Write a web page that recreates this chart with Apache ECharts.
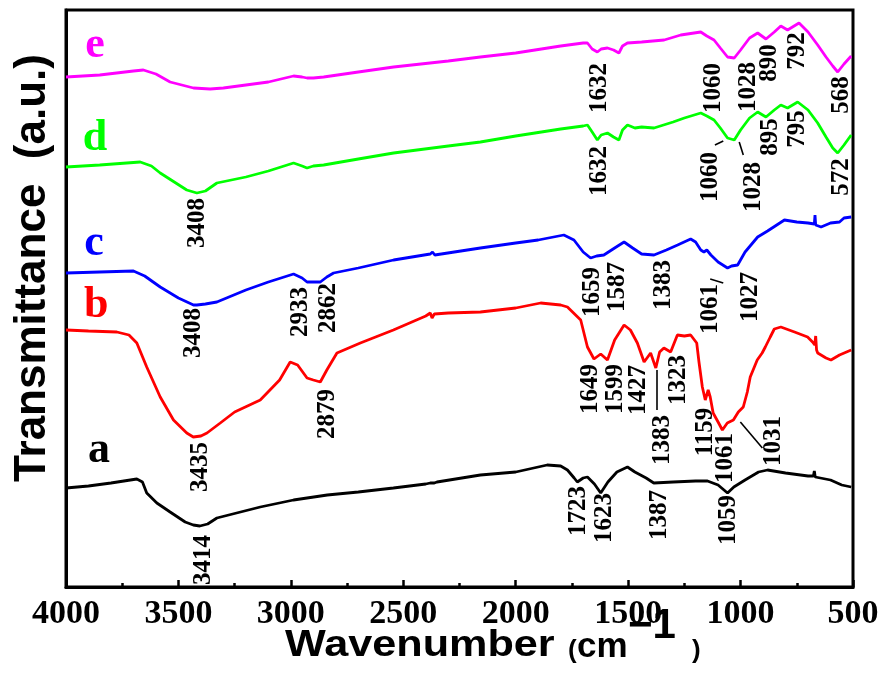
<!DOCTYPE html>
<html>
<head>
<meta charset="utf-8">
<script src="https://cdn.jsdelivr.net/npm/echarts@6/dist/echarts.min.js"></script>
<style>
html,body{margin:0;padding:0;background:#fff;}
#chart{width:883px;height:679px;}
</style>
</head>
<body>
<div id="chart"></div>
<script>
// ---- x-axis ticks (wavenumber, cm-1) ----
const xTicks = [4000, 3500, 3000, 2500, 2000, 1500, 1000, 500];

// ---- spectra: [wavenumber, offset transmittance (a.u.)] ----
const curveA = [[4000,99],[3900,101],[3800,104],[3685,108],[3660,105],[3641,94],[3596,84],[3537,75],[3470,65],[3434,62],[3405,61],[3370,63],[3329,69],[3136,80],[2988,87],[2838,92],[2700,95],[2544,99],[2400,103],[2380,104],[2372,106],[2362,104],[2350,105],[2157,112],[2000,115],[1860,122],[1800,121],[1770,117],[1740,109],[1726,105],[1700,109],[1681,110],[1650,103],[1622,94],[1590,105],[1550,115],[1503,120],[1470,115],[1420,109],[1386,104],[1300,105],[1200,106],[1147,106],[1100,102],[1058,94],[1030,100],[980,107],[920,115],[880,117],[800,114],[700,111],[676,111],[672,116],[668,110],[600,107],[550,102],[508,100]];
const curveB = [[4000,257],[3900,256],[3774,255],[3720,252],[3685,244],[3641,220],[3581,190],[3522,167],[3463,154],[3434,150],[3400,151],[3373,154],[3314,164],[3250,175],[3136,187],[3050,207],[3003,225],[2970,222],[2928,209],[2900,207],[2869,205],[2840,217],[2795,234],[2691,244],[2544,257],[2400,271],[2380,274],[2372,269],[2362,273],[2300,274],[2157,275],[2000,279],[1889,284],[1800,282],[1770,280],[1711,267],[1681,240],[1652,228],[1622,233],[1592,227],[1560,247],[1518,262],[1490,257],[1459,244],[1429,225],[1400,234],[1377,219],[1360,235],[1341,239],[1311,235],[1281,252],[1250,251],[1222,252],[1195,244],[1185,225],[1170,200],[1157,187],[1144,197],[1135,190],[1122,174],[1100,165],[1081,157],[1059,164],[1032,167],[1010,175],[988,180],[970,195],[957,210],[926,227],[904,234],[890,240],[868,250],[850,258],[821,260],[760,255],[702,250],[680,245],[670,242],[666,251],[662,237],[657,234],[620,229],[598,227],[560,232],[508,237]];
const curveC = [[4000,314],[3850,315],[3700,316],[3650,311],[3581,300],[3500,289],[3433,282],[3418,282],[3380,283],[3329,285],[3200,297],[3100,305],[2988,313],[2950,309],[2928,305],[2900,305],[2869,305],[2840,310],[2810,314],[2700,319],[2543,327],[2380,333],[2370,335],[2360,332],[2157,339],[2000,344],[1900,347],[1786,352],[1741,347],[1700,335],[1667,329],[1640,331],[1608,332],[1560,339],[1518,345],[1480,339],[1440,333],[1385,332],[1330,337],[1280,342],[1222,348],[1200,345],[1177,337],[1163,335],[1150,337],[1132,332],[1100,325],[1058,319],[1040,321],[1013,322],[980,335],[924,350],[880,356],[805,367],[750,365],[700,364],[672,363],[669,372],[666,362],[642,360],[600,364],[560,365],[540,369],[508,370]];
const curveD = [[4000,420],[3850,422],[3670,425],[3620,421],[3581,414],[3463,397],[3418,394],[3380,396],[3329,404],[3200,410],[3100,416],[2988,424],[2950,421],[2928,419],[2900,421],[2854,422],[2700,428],[2543,434],[2300,441],[2157,445],[2000,451],[1800,458],[1700,461],[1681,462],[1660,455],[1637,447],[1620,452],[1592,454],[1565,450],[1541,447],[1525,457],[1503,462],[1470,459],[1440,460],[1385,459],[1300,465],[1250,469],[1177,474],[1150,471],[1118,467],[1090,459],[1058,449],[1028,447],[1000,457],[960,469],[924,475],[887,470],[850,477],[821,482],[791,479],[746,485],[700,477],[657,464],[620,450],[590,439],[568,434],[540,442],[508,452]];
const curveE = [[4000,510],[3850,512],[3700,516],[3656,517],[3600,513],[3537,505],[3433,499],[3359,498],[3300,499],[3100,505],[2988,511],[2950,510],[2928,509],[2900,509],[2854,510],[2700,515],[2543,520],[2300,526],[2157,530],[2000,534],[1800,541],[1700,544],[1681,544],[1660,538],[1637,535],[1620,538],[1592,539],[1565,537],[1541,534],[1525,541],[1503,544],[1440,545],[1340,547],[1266,552],[1177,555],[1150,551],[1118,547],[1090,539],[1058,530],[1028,529],[1000,537],[960,549],[924,554],[887,548],[850,555],[821,561],[791,557],[740,564],[700,555],[657,542],[620,530],[590,521],[568,515],[540,523],[508,531]];

// ---- curve names / colors ----
const curveNames = ['a', 'b', 'c', 'd', 'e'];
const curveColors = ['#000000', '#ff0000', '#0000ff', '#00ff00', '#ff00ff'];
// ---- curve letter labels: [wavenumber, value, letter] ----
const letterLabels = [[3853,136,'a'],[3866,281,'b'],[3875,343,'c'],[3871,448,'d'],[3871,541,'e']];

// ---- peak annotations: [wavenumber, value, text] ----
const peaksA = [[3390,27,'3414'],[1722,76,'1723'],[1606,69,'1623'],[1362,72,'1387'],[1055,67,'1059']];
const peaksB = [[3403,120,'3435'],[2838,173,'2879'],[1667,198,'1649'],[1555,198,'1599'],[1455,197,'1427'],[1346,147,'1383'],[1277,207,'1323'],[1157,155,'1159'],[1068,129,'1061'],[855,146,'1031']];
const peaksC = [[3434,254,'3408'],[2958,275,'2933'],[2833,279,'2862'],[1658,295,'1659'],[1546,300,'1587'],[1342,302,'1383'],[1135,278,'1061'],[957,290,'1027']];
const peaksD = [[3417,364,'3408'],[1627,416,'1632'],[1133,410,'1060'],[943,400,'1028'],[865,450,'895'],[745,458,'795'],[553,410,'572']];
const peaksE = [[1627,499,'1632'],[1119,499,'1060'],[963,500,'1028'],[870,524,'890'],[745,536,'792'],[553,492,'568']];
// ---- leader lines: [w1, v1, w2, v2] ----
const leaders = [[1114,442,1077,446],[1006,445,988,432],[1135,308,1077,304],[1373,217,1373,177],[1001,165,903,139]];

const chart = echarts.init(document.getElementById('chart'));
const serif = '"Liberation Serif","Times New Roman",serif';
const sans = '"Liberation Sans",Arial,sans-serif';

const curves = [curveA, curveB, curveC, curveD, curveE];
const series = curves.map((d, i) => ({
  name: curveNames[i], type: 'line', data: d, showSymbol: false, symbol: 'none',
  lineStyle: { color: curveColors[i], width: 2.8 }, z: 3
}));

const allPeaks = [].concat(peaksA, peaksB, peaksC, peaksD, peaksE);
series.push({
  type: 'scatter', data: allPeaks, symbolSize: 0, z: 5, silent: true,
  itemStyle: { opacity: 1 },
  label: {
    show: true, position: 'inside', rotate: 90, align: 'center', verticalAlign: 'middle',
    formatter: p => p.value[2], color: '#000', fontFamily: serif, fontWeight: 'bold', fontSize: 25
  },
  markLine: {
    symbol: 'none', silent: true, animation: false,
    label: { show: false },
    lineStyle: { color: '#000', width: 1.6, type: 'solid', opacity: 1 },
    data: leaders.map(l => [{ coord: [l[0], l[1]] }, { coord: [l[2], l[3]] }])
  }
});
series.push({
  type: 'scatter', data: letterLabels.map((l, i) => ({ value: l, label: { color: curveColors[i] } })),
  symbolSize: 0, z: 5, silent: true,
  itemStyle: { opacity: 1 },
  label: {
    show: true, position: 'inside', align: 'center', verticalAlign: 'middle',
    formatter: p => p.value[2], fontFamily: serif, fontWeight: 'bold', fontSize: 44
  }
});

chart.setOption({
  animation: false,
  backgroundColor: '#fff',
  grid: { left: 66, right: 30, top: 10, bottom: 92, show: true, borderColor: '#000', borderWidth: 3, backgroundColor: 'transparent' },
  xAxis: {
    type: 'value', inverse: true, min: xTicks[xTicks.length - 1], max: xTicks[0], interval: 500,
    axisLine: { show: true, lineStyle: { color: '#000', width: 3 } },
    axisTick: { show: true, inside: true, length: 7, lineStyle: { color: '#000', width: 2.5 } },
    minorTick: { show: true, splitNumber: 2, length: 4, lineStyle: { color: '#000', width: 2.5 } },
    splitLine: { show: false },
    axisLabel: { color: '#000', fontFamily: serif, fontWeight: 'bold', fontSize: 34, margin: 10,
      formatter: v => xTicks.includes(v) ? String(v) : '' }
  },
  yAxis: {
    type: 'value', min: 0, max: 577,
    axisLine: { show: true, lineStyle: { color: '#000', width: 3 } },
    axisTick: { show: false }, axisLabel: { show: false }, splitLine: { show: false }
  },
  graphic: [
    { type: 'text', x: 33, y: 268, rotation: Math.PI / 2,
      style: { text: 'Transmittance  (a.u.)', font: 'bold 44px ' + sans, fill: '#000', align: 'center', verticalAlign: 'middle' } },
    { type: 'text', x: 285, y: 646, scaleX: 1.2,
      style: { text: 'Wavenumber', font: 'bold 36px ' + sans, fill: '#000', align: 'left', verticalAlign: 'middle' } },
    { type: 'text', x: 568, y: 651, style: { text: '(', font: 'bold 26px ' + sans, fill: '#000', align: 'left', verticalAlign: 'middle' } },
    { type: 'text', x: 577, y: 647, style: { text: 'cm', font: 'bold 35px ' + sans, fill: '#000', align: 'left', verticalAlign: 'middle' } },
    { type: 'text', x: 628, y: 626, style: { text: '\u22121', font: 'bold 42px ' + sans, fill: '#000', align: 'left', verticalAlign: 'middle' } },
    { type: 'text', x: 692, y: 651, style: { text: ')', font: 'bold 26px ' + sans, fill: '#000', align: 'left', verticalAlign: 'middle' } }
  ],
  series: series
});
</script>
</body>
</html>
